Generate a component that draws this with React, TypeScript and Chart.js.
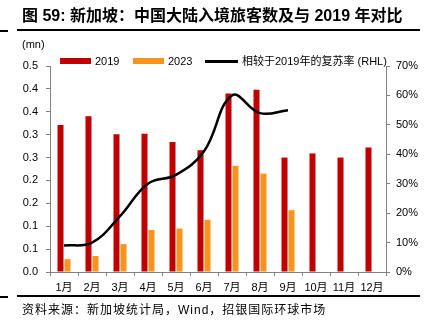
import React, { useEffect, useRef } from "react";
import { Chart, registerables } from "chart.js";

Chart.register(...registerables);

const months = ["1月", "2月", "3月", "4月", "5月", "6月", "7月", "8月", "9月", "10月", "11月", "12月"];
const arrivals2019 = [0.321, 0.34, 0.301, 0.302, 0.284, 0.266, 0.39, 0.398, 0.25, 0.259, 0.25, 0.272];
const arrivals2023 = [0.028, 0.035, 0.061, 0.092, 0.095, 0.114, 0.232, 0.215, 0.135, null, null, null];
const recoveryRate = [9, 10, 19, 30, 33, 41, 60, 54, 55, null, null, null];
const leftTickLabels = ["0.0", "0.1", "0.1", "0.2", "0.2", "0.3", "0.3", "0.4", "0.4", "0.5"];
const rightTickLabels = ["0%", "10%", "20%", "30%", "40%", "50%", "60%", "70%"];

const RED = "#C00000";
const ORANGE = "#F7941D";
const AXIS = "#808080";
const NUM_FONT = "'Liberation Sans', Arial, sans-serif";
const CJK_FONT = "'Liberation Sans', 'Noto Sans CJK SC', sans-serif";

export default function App() {
  const ref = useRef<HTMLCanvasElement | null>(null);

  useEffect(() => {
    if (!ref.current) return;
    const chart = new Chart(ref.current, {
      type: "bar",
      data: {
        labels: months,
        datasets: [
          {
            type: "line",
            label: "相较于2019年的复苏率 (RHL)",
            data: recoveryRate,
            yAxisID: "y1",
            borderColor: "#000000",
            borderWidth: 2.5,
            tension: 0.4,
            pointRadius: 0,
            fill: false,
            order: 0,
          } as any,
          {
            label: "2019",
            data: arrivals2019,
            backgroundColor: RED,
            yAxisID: "y",
            categoryPercentage: 0.5,
            barPercentage: 0.86,
            order: 1,
          },
          {
            label: "2023",
            data: arrivals2023,
            backgroundColor: ORANGE,
            yAxisID: "y",
            categoryPercentage: 0.5,
            barPercentage: 0.86,
            order: 1,
          },
        ],
      },
      options: {
        animation: false,
        responsive: false,
        maintainAspectRatio: false,
        layout: { padding: { top: 66, left: 0, right: 0, bottom: 0 } },
        plugins: { legend: { display: false }, tooltip: { enabled: false }, title: { display: false } },
        scales: {
          x: {
            offset: true,
            grid: { display: true, drawOnChartArea: false, drawTicks: true, tickLength: 4, color: AXIS, offset: true },
            border: { display: true, color: AXIS, width: 1 },
            ticks: { color: "#000", font: { family: CJK_FONT, size: 11 }, padding: 5, maxRotation: 0, autoSkip: false },
            afterFit: (s: any) => { s.height = 28; },
          },
          y: {
            position: "left",
            min: 0,
            max: 0.45,
            grid: { display: true, drawOnChartArea: false, drawTicks: true, tickLength: 4, color: AXIS },
            border: { display: true, color: AXIS, width: 1 },
            ticks: {
              stepSize: 0.05,
              color: "#000",
              font: { family: NUM_FONT, size: 11 },
              padding: 8,
              callback: (_v: any, i: number) => leftTickLabels[i],
            },
            afterFit: (s: any) => { s.width = 50; },
          },
          y1: {
            position: "right",
            min: 0,
            max: 70,
            grid: { display: true, drawOnChartArea: false, drawTicks: true, tickLength: 4, color: AXIS },
            border: { display: true, color: AXIS, width: 1 },
            ticks: {
              stepSize: 10,
              color: "#000",
              font: { family: NUM_FONT, size: 11 },
              padding: 6,
              callback: (_v: any, i: number) => rightTickLabels[i],
            },
            afterFit: (s: any) => { s.width = 42; },
          },
        },
      },
    });
    return () => chart.destroy();
  }, []);

  const abs = (o: React.CSSProperties): React.CSSProperties => ({ position: "absolute", whiteSpace: "nowrap", ...o });

  return (
    <div style={{ position: "fixed", left: 0, top: 0, width: 428, height: 336, background: "#fff", overflow: "hidden" }}>
      <canvas ref={ref} width={428} height={300} style={abs({ left: 0, top: 0, width: 428, height: 300 })} />
      <div style={abs({ left: 22, top: 6, fontFamily: CJK_FONT, fontWeight: 700, fontSize: 16, lineHeight: "20px", color: "#000" })}>
        图 59: 新加坡：中国大陆入境旅客数及与 2019 年对比
      </div>
      <div style={abs({ left: 17, top: 29, width: 403, height: 2, background: "#000" })} />
      <div style={abs({ left: 0, top: 30, width: 8, height: 2, background: "#000" })} />
      <div style={abs({ left: 22, top: 37, fontFamily: NUM_FONT, fontSize: 11, lineHeight: "14px", color: "#000" })}>(mn)</div>
      <div style={abs({ left: 60, top: 58, width: 31, height: 6, background: RED })} />
      <div style={abs({ left: 95, top: 54, fontFamily: NUM_FONT, fontSize: 11, lineHeight: "14px", color: "#000" })}>2019</div>
      <div style={abs({ left: 133, top: 58, width: 31, height: 6, background: ORANGE })} />
      <div style={abs({ left: 168, top: 54, fontFamily: NUM_FONT, fontSize: 11, lineHeight: "14px", color: "#000" })}>2023</div>
      <div style={abs({ left: 205, top: 60, width: 33, height: 2.5, background: "#000" })} />
      <div style={abs({ left: 242, top: 54, fontFamily: CJK_FONT, fontSize: 11, lineHeight: "14px", color: "#000" })}>相较于2019年的复苏率 (RHL)</div>
      <div style={abs({ left: 17, top: 295, width: 403, height: 2, background: "#000" })} />
      <div style={abs({ left: 0, top: 296, width: 8, height: 2, background: "#000" })} />
      <div style={abs({ left: 22, top: 302, fontFamily: CJK_FONT, fontSize: 12, lineHeight: "16px", letterSpacing: 1, color: "#000" })}>
        资料来源：新加坡统计局，Wind，招银国际环球市场
      </div>
    </div>
  );
}
